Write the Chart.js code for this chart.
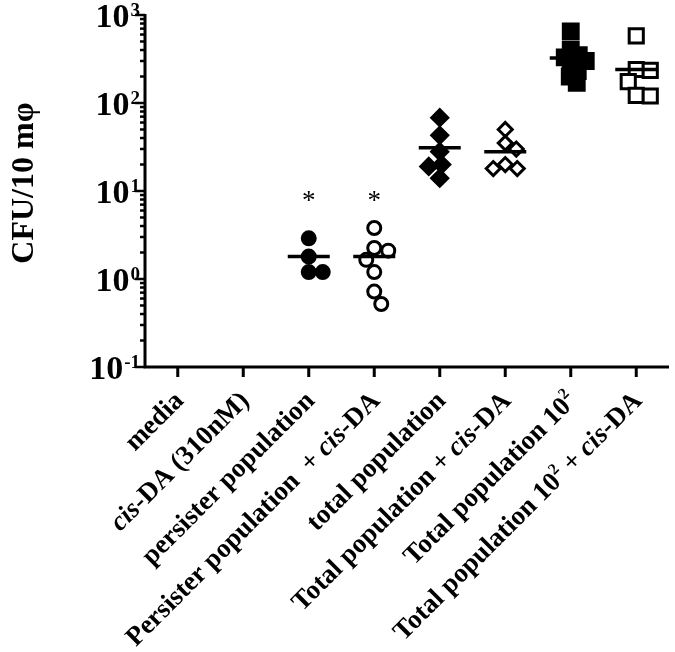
<!DOCTYPE html>
<html><head><meta charset="utf-8">
<script src="https://cdn.jsdelivr.net/npm/chart.js@4"></script>
<style>html,body{margin:0;padding:0;background:#fff}#wrap{width:675px;height:652px}</style>
</head><body><div id="wrap"><canvas id="c" width="675" height="652"></canvas></div>
<script>
// ---- data ----
const categories = ["media", "<i>cis</i>-DA (310nM)", "persister population", "Persister population  + <i>cis</i>-DA",
  "total population", "Total population + <i>cis</i>-DA", "Total population 10<sup>2</sup>", "Total population 10<sup>2</sup> + <i>cis</i>-DA"];
const yTickExponents = [-1, 0, 1, 2, 3];
const yTitle = "CFU/10 m\u03c6";
const persister = [2.9, 1.8, 1.2, 1.2];
const persisterCis = [3.8, 2.25, 2.1, 1.65, 1.2, 0.72, 0.52];
const totalPop = [68, 43, 28, 20, 19, 14];
const totalPopCis = [50, 35, 30, 20, 18, 18];
const total100 = [650, 400, 350, 330, 300, 270, 230, 200, 170];
const total100Cis = [580, 240, 235, 175, 122, 120];
const means = [null, null, 1.8, 1.8, 31, 28, 324, 240];
const significance = [null, null, "*", "*", null, null, null, null];

// ---- groups (category index + marker style) ----
const groups = [
  {cat: 2, values: persister, style: 'circle', fill: true, r: 6.5, gap: 14},
  {cat: 3, values: persisterCis, style: 'circle', fill: false, r: 6.5, gap: 14},
  {cat: 4, values: totalPop, style: 'rectRot', fill: true, r: 8, gap: 13},
  {cat: 5, values: totalPopCis, style: 'rectRot', fill: false, r: 7, gap: 12},
  {cat: 6, values: total100, style: 'rect', fill: true, r: 10.5, gap: 9},
  {cat: 7, values: total100Cis, style: 'rect', fill: false, r: 10, gap: 14}
];

const SERIF = "'Liberation Serif', 'Times New Roman', serif";

const datasets = [{
  label: 'mean',
  data: means.map((m, i) => m == null ? null : {x: i, y: m}).filter(d => d),
  pointStyle: 'line', pointRadius: 21, pointBorderWidth: 3.5,
  borderColor: '#000', backgroundColor: '#000', showLine: false, order: 0, clip: false
}].concat(groups.map((g, gi) => ({
  label: 'g' + gi,
  data: g.values.map(v => ({x: g.cat, y: v})),
  pointStyle: g.style, pointRadius: g.r, pointBorderWidth: 3,
  borderColor: '#000', backgroundColor: g.fill ? '#000' : '#fff',
  showLine: false, order: 1, clip: false
})));

function parseRich(s) {
  const segs = [];
  const re = /<(i|sup)>(.*?)<\/\1>/g;
  let last = 0, m;
  while ((m = re.exec(s))) {
    if (m.index > last) segs.push({t: s.slice(last, m.index), k: 'n'});
    segs.push({t: m[2], k: m[1]});
    last = re.lastIndex;
  }
  if (last < s.length) segs.push({t: s.slice(last), k: 'n'});
  return segs;
}

const axesPlugin = {
  id: 'axesPlugin',
  afterDraw(chart) {
    const ctx = chart.ctx, a = chart.chartArea;
    const xs = chart.scales.x, ys = chart.scales.y;
    ctx.save();
    ctx.strokeStyle = '#000'; ctx.fillStyle = '#000';
    ctx.lineWidth = 3; ctx.lineCap = 'butt';
    // axis lines
    ctx.beginPath();
    ctx.moveTo(a.left, a.top - 1); ctx.lineTo(a.left, a.bottom + 1.5);
    ctx.moveTo(a.left - 1.5, a.bottom); ctx.lineTo(a.right, a.bottom);
    ctx.stroke();
    // y ticks
    ctx.lineWidth = 2.5;
    yTickExponents.forEach((e, idx) => {
      const py = ys.getPixelForValue(Math.pow(10, e));
      ctx.beginPath(); ctx.moveTo(a.left - 10, py); ctx.lineTo(a.left, py); ctx.stroke();
      if (idx < yTickExponents.length - 1) {
        for (let k = 2; k <= 9; k++) {
          const p = ys.getPixelForValue(k * Math.pow(10, e));
          ctx.beginPath(); ctx.moveTo(a.left - 5, p); ctx.lineTo(a.left, p); ctx.stroke();
        }
      }
      // label
      const exp = String(e);
      ctx.font = 'bold 19px ' + SERIF;
      const ew = ctx.measureText(exp).width;
      ctx.textBaseline = 'alphabetic'; ctx.textAlign = 'left';
      const right = a.left - 5;
      ctx.fillText(exp, right - ew, py + 1);
      ctx.font = 'bold 34px ' + SERIF;
      ctx.textAlign = 'right';
      ctx.fillText('10', right - ew - 1, py + 12);
    });
    // x ticks & labels
    categories.forEach((lab, i) => {
      const px = xs.getPixelForValue(i);
      ctx.lineWidth = 3;
      ctx.beginPath(); ctx.moveTo(px, a.bottom); ctx.lineTo(px, a.bottom + 10); ctx.stroke();
      const segs = parseRich(lab);
      const fonts = {n: 'bold 27px ' + SERIF, i: 'italic bold 27px ' + SERIF, sup: 'bold 16px ' + SERIF};
      let total = 0;
      segs.forEach(s => { ctx.font = fonts[s.k]; s.w = ctx.measureText(s.t).width; total += s.w; });
      ctx.save();
      ctx.translate(px + 7, a.bottom + 35);
      ctx.rotate(-Math.PI / 4);
      ctx.textAlign = 'left'; ctx.textBaseline = 'alphabetic';
      let cx = -total;
      segs.forEach(s => {
        ctx.font = fonts[s.k];
        ctx.fillText(s.t, cx, s.k === 'sup' ? -11 : 0);
        cx += s.w;
      });
      ctx.restore();
      if (significance[i]) {
        ctx.font = '27px ' + SERIF;
        ctx.textAlign = 'center'; ctx.textBaseline = 'middle';
        ctx.fillText(significance[i], px, ys.getPixelForValue(8.5) + 5);
      }
    });
    // y title
    ctx.save();
    ctx.translate(33, (a.top + a.bottom) / 2 - 8);
    ctx.rotate(-Math.PI / 2);
    ctx.font = 'bold 32px ' + SERIF;
    ctx.textAlign = 'center'; ctx.textBaseline = 'alphabetic';
    ctx.fillText(yTitle, 0, 0);
    ctx.restore();
    ctx.restore();
  }
};

const chart = new Chart(document.getElementById('c'), {
  type: 'scatter',
  data: {datasets},
  options: {
    responsive: false, animation: false, devicePixelRatio: 1,
    layout: {autoPadding: false, padding: {left: 145, top: 15, right: 6, bottom: 285}},
    plugins: {legend: {display: false}, tooltip: {enabled: false}},
    scales: {
      x: {type: 'linear', min: -0.5, max: 7.5, display: false},
      y: {type: 'logarithmic', min: 0.1, max: 1000, display: false}
    }
  },
  plugins: [axesPlugin]
});

// beeswarm-style horizontal spreading of overlapping points
(function swarm() {
  const xs = chart.scales.x, ys = chart.scales.y;
  const unit = xs.getPixelForValue(1) - xs.getPixelForValue(0);
  groups.forEach((g, gi) => {
    const placed = [];
    chart.data.datasets[gi + 1].data = g.values.map(v => {
      const py = ys.getPixelForValue(v);
      let best = 0, found = false;
      for (let s = 0; s < 80 && !found; s++) {
        for (const off of (s === 0 ? [0] : [s, -s])) {
          if (placed.every(p => Math.hypot(p.x - off, p.y - py) >= g.gap)) { best = off; found = true; break; }
        }
      }
      placed.push({x: best, y: py});
      return {x: g.cat + best / unit, y: v};
    });
  });
  chart.update('none');
})();
</script></body></html>
